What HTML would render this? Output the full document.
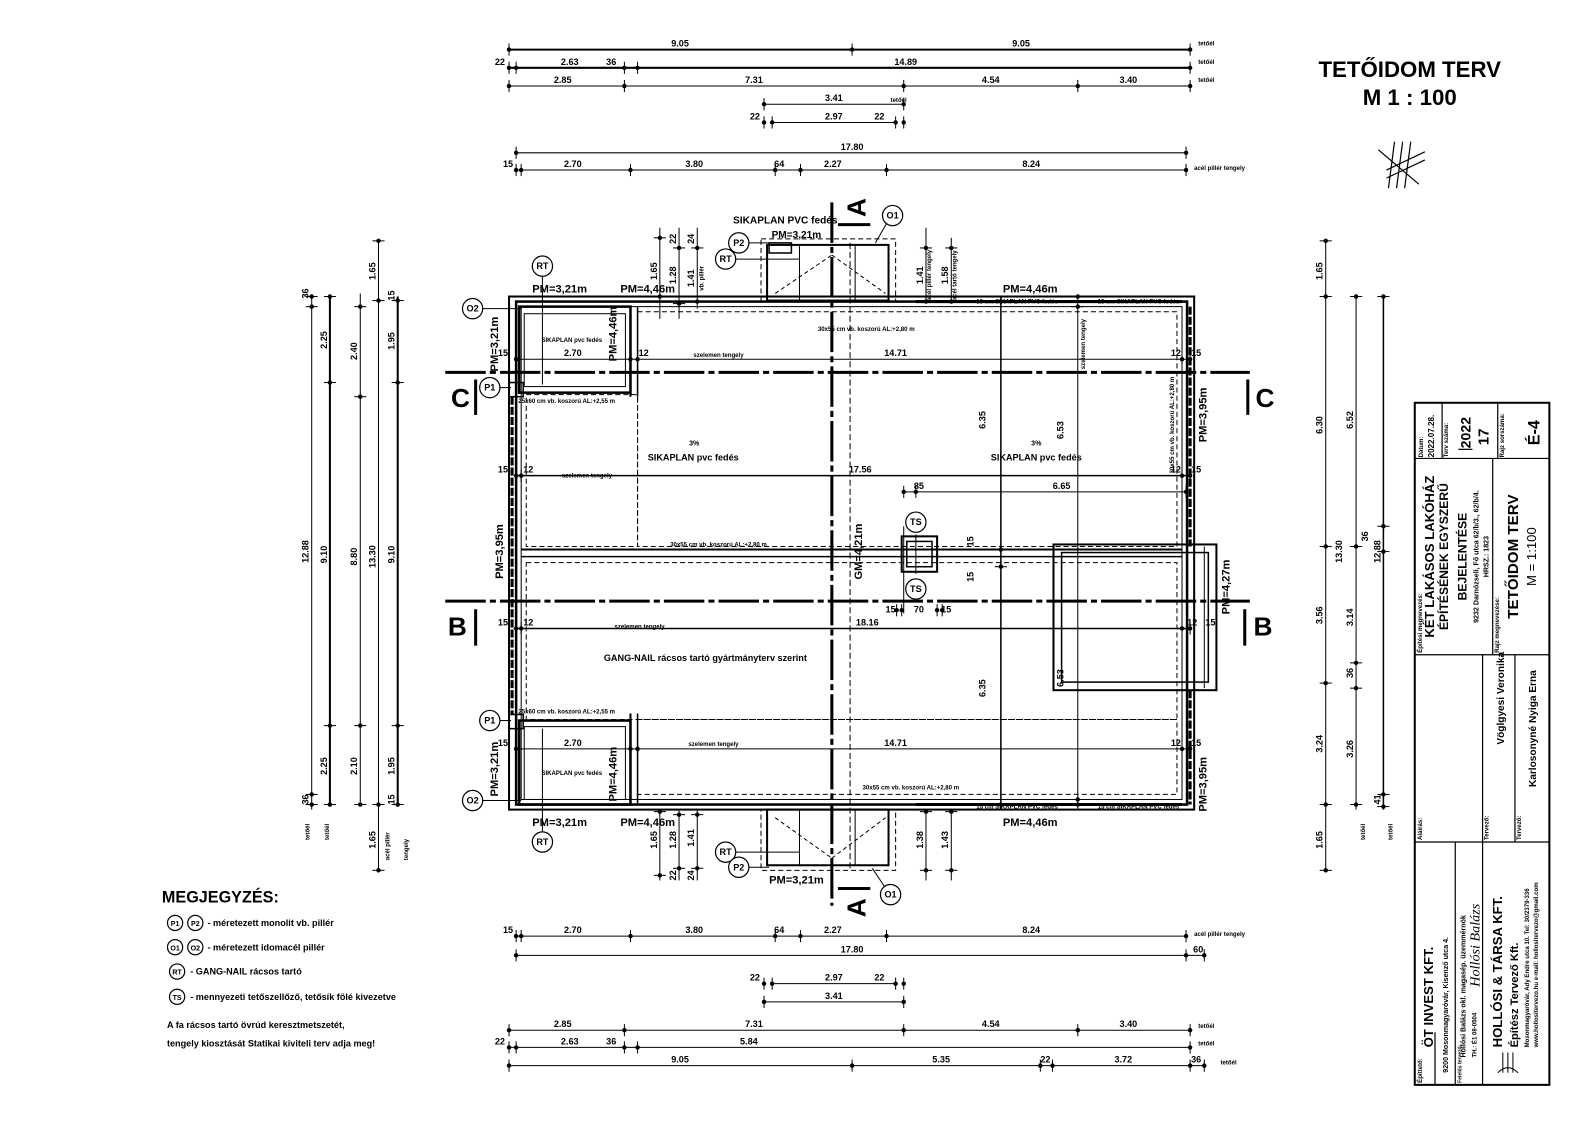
<!DOCTYPE html>
<html><head><meta charset="utf-8"><style>
html,body{margin:0;padding:0;background:#fff;}
svg{display:block;}
text{font-family:"Liberation Sans",sans-serif;fill:#000;}
.d{font-size:9px;font-weight:bold;}
.s{font-size:6px;font-weight:bold;}
.m{font-size:11px;font-weight:bold;}
</style></head><body>
<svg width="1587" height="1123" viewBox="0 0 1587 1123" xmlns="http://www.w3.org/2000/svg">
<defs>
<g id="th"><line x1="0" y1="-6" x2="0" y2="6" stroke="#000" stroke-width="1"/><circle r="2.2" fill="#000"/></g>
<g id="tv"><line x1="-6" y1="0" x2="6" y2="0" stroke="#000" stroke-width="1"/><circle r="2.2" fill="#000"/></g>
</defs>
<rect width="1587" height="1123" fill="#fff"/>
<g transform="scale(1.012)">

<!-- Title -->
<text x="1393" y="76" text-anchor="middle" style="font-size:22px;font-weight:bold">TETŐIDOM TERV</text>
<text x="1393" y="104" text-anchor="middle" style="font-size:22px;font-weight:bold">M 1 : 100</text>
<!-- north arrow -->
<g stroke="#000" stroke-width="1.2" fill="none">
<line x1="1362" y1="148" x2="1402" y2="182"/><line x1="1378" y1="140" x2="1372" y2="186"/>
<line x1="1386" y1="140" x2="1380" y2="186"/><line x1="1394" y1="140" x2="1388" y2="186"/>
<line x1="1370" y1="168" x2="1408" y2="150"/><line x1="1370" y1="176" x2="1408" y2="158"/>
</g>

<!-- TOP DIMENSIONS -->
<g stroke="#000" fill="none">
<line x1="503" y1="49" x2="1176" y2="49" stroke-width="2"/>
<line x1="503" y1="67" x2="1176" y2="67" stroke-width="2"/>
<line x1="503" y1="85" x2="1176" y2="85" stroke-width="1"/>
<line x1="755" y1="103" x2="893" y2="103"/>
<line x1="763" y1="121" x2="885" y2="121"/>
<line x1="510" y1="151" x2="1172" y2="151"/>
<line x1="510" y1="168" x2="1172" y2="168"/>
</g>
<use href="#th" x="503" y="49"/><use href="#th" x="842" y="49"/><use href="#th" x="1176" y="49"/>
<use href="#th" x="503" y="67"/><use href="#th" x="510" y="67"/><use href="#th" x="617" y="67"/><use href="#th" x="630" y="67"/><use href="#th" x="1176" y="67"/>
<use href="#th" x="503" y="85"/><use href="#th" x="617" y="85"/><use href="#th" x="893" y="85"/><use href="#th" x="1065" y="85"/><use href="#th" x="1176" y="85"/>
<use href="#th" x="755" y="103"/><use href="#th" x="893" y="103"/>
<use href="#th" x="755" y="121"/><use href="#th" x="763" y="121"/><use href="#th" x="885" y="121"/><use href="#th" x="893" y="121"/>
<use href="#th" x="510" y="151"/><use href="#th" x="1172" y="151"/>
<use href="#th" x="510" y="168"/><use href="#th" x="515" y="168"/><use href="#th" x="623" y="168"/><use href="#th" x="766" y="168"/><use href="#th" x="791" y="168"/><use href="#th" x="876" y="168"/><use href="#th" x="1172" y="168"/>
<g class="d" text-anchor="middle">
<text x="672" y="46">9.05</text><text x="1009" y="46">9.05</text>
<text x="494" y="64">22</text><text x="563" y="64">2.63</text><text x="604" y="64">36</text><text x="895" y="64">14.89</text>
<text x="556" y="82">2.85</text><text x="745" y="82">7.31</text><text x="979" y="82">4.54</text><text x="1115" y="82">3.40</text>
<text x="824" y="100">3.41</text>
<text x="746" y="118">22</text><text x="824" y="118">2.97</text><text x="869" y="118">22</text>
<text x="842" y="148">17.80</text>
<text x="502" y="165">15</text><text x="566" y="165">2.70</text><text x="686" y="165">3.80</text><text x="770" y="165">64</text><text x="823" y="165">2.27</text><text x="1019" y="165">8.24</text>
</g>
<g class="s"><text x="1184" y="45">tetőél</text><text x="1184" y="63">tetőél</text><text x="1184" y="81">tetőél</text><text x="880" y="101">tetőél</text><text x="1180" y="168">acél pillér tengely</text></g>

<!-- BOTTOM DIMENSIONS -->
<g stroke="#000" fill="none">
<line x1="510" y1="925" x2="1172" y2="925"/>
<line x1="510" y1="944" x2="1190" y2="944"/>
<line x1="763" y1="972" x2="885" y2="972"/>
<line x1="755" y1="990" x2="893" y2="990"/>
<line x1="503" y1="1018" x2="1176" y2="1018"/>
<line x1="503" y1="1035" x2="1176" y2="1035"/>
<line x1="503" y1="1053" x2="1190" y2="1053"/>
</g>
<use href="#th" x="510" y="925"/><use href="#th" x="515" y="925"/><use href="#th" x="623" y="925"/><use href="#th" x="766" y="925"/><use href="#th" x="791" y="925"/><use href="#th" x="876" y="925"/><use href="#th" x="1172" y="925"/>
<use href="#th" x="510" y="944"/><use href="#th" x="1172" y="944"/><use href="#th" x="1190" y="944"/>
<use href="#th" x="755" y="972"/><use href="#th" x="763" y="972"/><use href="#th" x="885" y="972"/><use href="#th" x="893" y="972"/>
<use href="#th" x="755" y="990"/><use href="#th" x="893" y="990"/>
<use href="#th" x="503" y="1018"/><use href="#th" x="617" y="1018"/><use href="#th" x="893" y="1018"/><use href="#th" x="1065" y="1018"/><use href="#th" x="1176" y="1018"/>
<use href="#th" x="503" y="1035"/><use href="#th" x="510" y="1035"/><use href="#th" x="617" y="1035"/><use href="#th" x="630" y="1035"/><use href="#th" x="1176" y="1035"/>
<use href="#th" x="503" y="1053"/><use href="#th" x="842" y="1053"/><use href="#th" x="1028" y="1053"/><use href="#th" x="1040" y="1053"/><use href="#th" x="1176" y="1053"/><use href="#th" x="1190" y="1053"/>
<g class="d" text-anchor="middle">
<text x="502" y="922">15</text><text x="566" y="922">2.70</text><text x="686" y="922">3.80</text><text x="770" y="922">64</text><text x="823" y="922">2.27</text><text x="1019" y="922">8.24</text>
<text x="842" y="941">17.80</text><text x="1184" y="941">60</text>
<text x="746" y="969">22</text><text x="824" y="969">2.97</text><text x="869" y="969">22</text>
<text x="824" y="987">3.41</text>
<text x="556" y="1015">2.85</text><text x="745" y="1015">7.31</text><text x="979" y="1015">4.54</text><text x="1115" y="1015">3.40</text>
<text x="494" y="1032">22</text><text x="563" y="1032">2.63</text><text x="604" y="1032">36</text><text x="740" y="1032">5.84</text>
<text x="672" y="1050">9.05</text><text x="930" y="1050">5.35</text><text x="1033" y="1050">22</text><text x="1110" y="1050">3.72</text><text x="1182" y="1050">36</text>
</g>
<g class="s"><text x="1180" y="925">acél pillér tengely</text><text x="1184" y="1016">tetőél</text><text x="1184" y="1033">tetőél</text><text x="1206" y="1052">tetőél</text></g>

<!-- LEFT DIMENSIONS -->
<g stroke="#000" fill="none">
<line x1="308" y1="293" x2="308" y2="800"/>
<line x1="326" y1="293" x2="326" y2="795" stroke-width="2"/>
<line x1="356" y1="290" x2="356" y2="795"/>
<line x1="374" y1="238" x2="374" y2="860"/>
<line x1="393" y1="293" x2="393" y2="797" stroke-width="2"/>
</g>
<use href="#tv" x="308" y="293"/><use href="#tv" x="308" y="303"/><use href="#tv" x="308" y="785"/><use href="#tv" x="308" y="795"/>
<use href="#tv" x="326" y="293"/><use href="#tv" x="326" y="378"/><use href="#tv" x="326" y="717"/><use href="#tv" x="326" y="795"/>
<use href="#tv" x="356" y="303"/><use href="#tv" x="356" y="392"/><use href="#tv" x="356" y="717"/><use href="#tv" x="356" y="795"/>
<use href="#tv" x="374" y="238"/><use href="#tv" x="374" y="297"/><use href="#tv" x="374" y="795"/><use href="#tv" x="374" y="860"/>
<use href="#tv" x="393" y="297"/><use href="#tv" x="393" y="378"/><use href="#tv" x="393" y="717"/><use href="#tv" x="393" y="795"/>
<g class="d" text-anchor="middle">
<text transform="translate(305,545) rotate(-90)">12.88</text>
<text transform="translate(305,290) rotate(-90)">36</text><text transform="translate(305,790) rotate(-90)">36</text>
<text transform="translate(323,336) rotate(-90)">2.25</text><text transform="translate(323,548) rotate(-90)">9.10</text><text transform="translate(323,757) rotate(-90)">2.25</text>
<text transform="translate(353,347) rotate(-90)">2.40</text><text transform="translate(353,550) rotate(-90)">8.80</text><text transform="translate(353,757) rotate(-90)">2.10</text>
<text transform="translate(371,268) rotate(-90)">1.65</text><text transform="translate(371,550) rotate(-90)">13.30</text><text transform="translate(371,830) rotate(-90)">1.65</text>
<text transform="translate(390,337) rotate(-90)">1.95</text><text transform="translate(390,548) rotate(-90)">9.10</text><text transform="translate(390,757) rotate(-90)">1.95</text>
<text transform="translate(390,292) rotate(-90)">15</text><text transform="translate(390,790) rotate(-90)">15</text>
</g>
<g class="s"><text transform="translate(306,830) rotate(-90)">tetőél</text><text transform="translate(325,830) rotate(-90)">tetőél</text><text transform="translate(385,850) rotate(-90)">acél pillér</text><text transform="translate(403,850) rotate(-90)">tengely</text></g>

<!-- RIGHT DIMENSIONS -->
<g stroke="#000" fill="none">
<line x1="1310" y1="238" x2="1310" y2="860"/>
<line x1="1340" y1="293" x2="1340" y2="800"/>
<line x1="1367" y1="293" x2="1367" y2="800" stroke-width="1.5"/>
</g>
<use href="#tv" x="1310" y="238"/><use href="#tv" x="1310" y="293"/><use href="#tv" x="1310" y="540"/><use href="#tv" x="1310" y="675"/><use href="#tv" x="1310" y="795"/><use href="#tv" x="1310" y="860"/>
<use href="#tv" x="1340" y="293"/><use href="#tv" x="1340" y="540"/><use href="#tv" x="1340" y="655"/><use href="#tv" x="1340" y="680"/><use href="#tv" x="1340" y="795"/>
<use href="#tv" x="1367" y="293"/><use href="#tv" x="1367" y="520"/><use href="#tv" x="1367" y="545"/><use href="#tv" x="1367" y="785"/><use href="#tv" x="1367" y="797"/>
<g class="d" text-anchor="middle">
<text transform="translate(1307,268) rotate(-90)">1.65</text><text transform="translate(1307,420) rotate(-90)">6.30</text><text transform="translate(1307,608) rotate(-90)">3.56</text><text transform="translate(1307,735) rotate(-90)">3.24</text><text transform="translate(1307,830) rotate(-90)">1.65</text>
<text transform="translate(1337,415) rotate(-90)">6.52</text><text transform="translate(1326,545) rotate(-90)">13.30</text><text transform="translate(1337,610) rotate(-90)">3.14</text><text transform="translate(1337,740) rotate(-90)">3.26</text><text transform="translate(1337,665) rotate(-90)">36</text>
<text transform="translate(1364,545) rotate(-90)">12.88</text><text transform="translate(1364,530) rotate(-90)"></text><text transform="translate(1352,530) rotate(-90)">36</text><text transform="translate(1364,790) rotate(-90)">41</text>
</g>
<g class="s"><text transform="translate(1349,830) rotate(-90)">tetőél</text><text transform="translate(1376,830) rotate(-90)">tetőél</text></g>

<!-- PLAN -->
<g stroke="#000" fill="none">
<!-- outer walls -->
<rect x="503" y="293" width="677" height="507" stroke-width="2"/>
<rect x="510" y="298" width="663" height="497" stroke-width="2.5"/>
<rect x="515" y="303" width="653" height="487" stroke-width="1"/>
<!-- dashed inner zones -->
<rect x="630" y="308" width="533" height="232" stroke-dasharray="5,3" stroke-width="1"/>
<rect x="520" y="390" width="110" height="150" stroke-dasharray="5,3" stroke-width="1"/>
<rect x="520" y="556" width="643" height="155" stroke-dasharray="5,3" stroke-width="1"/>
<rect x="630" y="711" width="533" height="74" stroke-dasharray="5,3" stroke-width="1"/>
<!-- divider -->
<line x1="515" y1="543" x2="1168" y2="543" stroke-width="2"/>
<line x1="515" y1="550" x2="1168" y2="550" stroke-width="1.5"/>
<!-- top-left sub room -->
<rect x="513" y="303" width="110" height="85" stroke-width="2.5"/>
<rect x="518" y="310" width="100" height="72" stroke-width="1"/>
<line x1="623" y1="303" x2="623" y2="392" stroke-width="2"/>
<line x1="630" y1="303" x2="630" y2="392" stroke-width="1.5"/>
<rect x="503" y="378" width="14" height="14" stroke-width="1.5"/>
<!-- bottom-left sub room -->
<rect x="513" y="712" width="110" height="83" stroke-width="2.5"/>
<rect x="518" y="718" width="100" height="72" stroke-width="1"/>
<line x1="623" y1="705" x2="623" y2="795" stroke-width="2"/>
<line x1="630" y1="705" x2="630" y2="795" stroke-width="1.5"/>
<rect x="503" y="706" width="14" height="14" stroke-width="1.5"/>
<!-- beams top / bottom -->
<line x1="905" y1="298" x2="1168" y2="298" stroke-width="3"/>
<line x1="905" y1="795" x2="1168" y2="795" stroke-width="3"/>
<!-- left wall hatch -->
<line x1="506" y1="392" x2="506" y2="706" stroke-width="3" stroke-dasharray="8,2"/>
<line x1="1176" y1="303" x2="1176" y2="540" stroke-width="3" stroke-dasharray="8,2"/>
<line x1="1176" y1="682" x2="1176" y2="795" stroke-width="3" stroke-dasharray="8,2"/>
<!-- right box -->
<rect x="1041" y="538" width="161" height="144" stroke-width="2"/>
<rect x="1049" y="546" width="145" height="128" stroke-width="1.5"/>
<line x1="1190" y1="540" x2="1190" y2="680" stroke-width="1"/>
<!-- stair bump top -->
<rect x="752" y="236" width="133" height="62" stroke-dasharray="5,3"/>
<rect x="758" y="242" width="120" height="55" stroke-width="2"/>
<line x1="790" y1="242" x2="790" y2="297"/><line x1="845" y1="242" x2="845" y2="297"/>
<line x1="766" y1="290" x2="822" y2="252" stroke-dasharray="4,3"/><line x1="822" y1="252" x2="875" y2="290" stroke-dasharray="4,3"/>
<rect x="760" y="240" width="22" height="10" stroke-width="1.5"/>
<!-- stair bump bottom -->
<rect x="752" y="800" width="133" height="60" stroke-dasharray="5,3"/>
<rect x="758" y="800" width="120" height="55" stroke-width="2"/>
<line x1="790" y1="800" x2="790" y2="855"/><line x1="845" y1="800" x2="845" y2="855"/>
<line x1="766" y1="808" x2="822" y2="848" stroke-dasharray="4,3"/><line x1="822" y1="848" x2="875" y2="808" stroke-dasharray="4,3"/>
<!-- chimney TS -->
<rect x="891" y="530" width="35" height="35" stroke-width="2"/>
<rect x="896" y="535" width="25" height="25" stroke-width="1.5"/>
<line x1="905" y1="528" x2="905" y2="567"/>
<!-- internal axis lines -->
<line x1="510" y1="355" x2="1172" y2="355"/>
<line x1="510" y1="470" x2="1172" y2="470" stroke-width="1.5"/>
<line x1="893" y1="486" x2="1172" y2="486"/>
<line x1="510" y1="621" x2="1172" y2="621" stroke-width="1.5"/>
<line x1="510" y1="740" x2="1172" y2="740"/>
<line x1="989" y1="293" x2="989" y2="800" stroke-width="1.5"/>
<line x1="1065" y1="293" x2="1065" y2="800"/>
<line x1="840" y1="240" x2="840" y2="860" stroke-dasharray="6,3"/>
<!-- section lines -->
<line x1="440" y1="368" x2="1235" y2="368" stroke-width="3" stroke-dasharray="40,4,6,4"/>
<line x1="440" y1="594" x2="1235" y2="594" stroke-width="3" stroke-dasharray="40,4,6,4"/>
<line x1="822" y1="200" x2="822" y2="895" stroke-width="3" stroke-dasharray="40,4,6,4"/>
<line x1="470" y1="375" x2="470" y2="410" stroke-width="3"/>
<line x1="1233" y1="375" x2="1233" y2="410" stroke-width="3"/>
<line x1="470" y1="602" x2="470" y2="638" stroke-width="3"/>
<line x1="1230" y1="602" x2="1230" y2="638" stroke-width="3"/>
<line x1="828" y1="222" x2="860" y2="222" stroke-width="3"/>
<line x1="828" y1="878" x2="860" y2="878" stroke-width="3"/>
<!-- vertical small dims near stairs -->
<line x1="652" y1="225" x2="652" y2="315"/><line x1="671" y1="225" x2="671" y2="315"/><line x1="689" y1="225" x2="689" y2="305"/>
<line x1="915" y1="225" x2="915" y2="300"/><line x1="940" y1="235" x2="940" y2="300"/>
<line x1="652" y1="800" x2="652" y2="870"/><line x1="671" y1="800" x2="671" y2="870"/><line x1="689" y1="800" x2="689" y2="870"/>
<line x1="915" y1="800" x2="915" y2="870"/><line x1="940" y1="800" x2="940" y2="870"/>
<line x1="893" y1="520" x2="893" y2="606"/>
<!-- callout leaders -->
<line x1="477" y1="305" x2="515" y2="305"/><line x1="494" y1="383" x2="505" y2="383"/>
<line x1="494" y1="712" x2="505" y2="712"/><line x1="477" y1="791" x2="515" y2="791"/>
<line x1="536" y1="273" x2="536" y2="380"/><line x1="536" y1="720" x2="536" y2="822"/>
<line x1="740" y1="240" x2="760" y2="240"/><line x1="727" y1="256" x2="790" y2="256"/>
<line x1="740" y1="857" x2="760" y2="857"/><line x1="727" y1="842" x2="790" y2="842"/>
<line x1="876" y1="221" x2="865" y2="240"/><line x1="874" y1="876" x2="862" y2="858"/>
<line x1="905" y1="526" x2="905" y2="522"/>
</g>
<!-- ticks in plan -->
<use href="#th" x="510" y="355"/><use href="#th" x="623" y="355"/><use href="#th" x="630" y="355"/><use href="#th" x="1168" y="355"/><use href="#th" x="1176" y="355"/>
<use href="#th" x="510" y="470"/><use href="#th" x="515" y="470"/><use href="#th" x="1168" y="470"/><use href="#th" x="1176" y="470"/>
<use href="#th" x="893" y="486"/><use href="#th" x="905" y="486"/><use href="#th" x="1172" y="486"/>
<use href="#th" x="510" y="621"/><use href="#th" x="515" y="621"/><use href="#th" x="1168" y="621"/><use href="#th" x="1176" y="621"/>
<use href="#th" x="510" y="740"/><use href="#th" x="623" y="740"/><use href="#th" x="630" y="740"/><use href="#th" x="1168" y="740"/><use href="#th" x="1176" y="740"/>
<use href="#th" x="886" y="603"/><use href="#th" x="891" y="603"/><use href="#th" x="926" y="603"/><use href="#th" x="931" y="603"/>
<use href="#tv" x="652" y="235"/><use href="#tv" x="652" y="293"/><use href="#tv" x="671" y="245"/><use href="#tv" x="671" y="300"/><use href="#tv" x="689" y="245"/><use href="#tv" x="689" y="298"/>
<use href="#tv" x="915" y="245"/><use href="#tv" x="915" y="298"/><use href="#tv" x="940" y="245"/><use href="#tv" x="940" y="298"/>
<use href="#tv" x="652" y="802"/><use href="#tv" x="652" y="865"/><use href="#tv" x="671" y="805"/><use href="#tv" x="671" y="858"/><use href="#tv" x="689" y="805"/><use href="#tv" x="689" y="858"/>
<use href="#tv" x="915" y="802"/><use href="#tv" x="915" y="860"/><use href="#tv" x="940" y="802"/><use href="#tv" x="940" y="860"/>
<use href="#tv" x="1065" y="293"/><use href="#tv" x="1065" y="303"/><use href="#tv" x="1065" y="795"/><use href="#tv" x="1065" y="790"/>
<use href="#tv" x="989" y="298"/><use href="#tv" x="989" y="795"/><use href="#tv" x="989" y="543"/><use href="#tv" x="989" y="560"/>

<!-- plan text -->
<g class="m" text-anchor="middle">
<text x="776" y="221" style="font-size:10px">SIKAPLAN PVC fedés</text>
<text x="787" y="235" style="font-size:10px">PM=3,21m</text>
<text x="553" y="289">PM=3,21m</text><text x="640" y="289">PM=4,46m</text><text x="1018" y="289">PM=4,46m</text>
<text x="553" y="816">PM=3,21m</text><text x="640" y="816">PM=4,46m</text><text x="1018" y="816">PM=4,46m</text>
<text x="787" y="873">PM=3,21m</text>
<text transform="translate(492,340) rotate(-90)">PM=3,21m</text>
<text transform="translate(492,760) rotate(-90)">PM=3,21m</text>
<text transform="translate(497,545) rotate(-90)">PM=3,95m</text>
<text transform="translate(609,330) rotate(-90)">PM=4,46m</text>
<text transform="translate(609,765) rotate(-90)">PM=4,46m</text>
<text transform="translate(1192,410) rotate(-90)">PM=3,95m</text>
<text transform="translate(1192,775) rotate(-90)">PM=3,95m</text>
<text transform="translate(1215,580) rotate(-90)">PM=4,27m</text>
<text transform="translate(852,545) rotate(-90)">GM=4,21m</text>
</g>
<g class="d" text-anchor="middle">
<text x="566" y="352">2.70</text><text x="885" y="352">14.71</text><text x="636" y="352">12</text><text x="1162" y="352">12</text><text x="1182" y="352">15</text><text x="497" y="352">15</text>
<text x="850" y="467">17.56</text><text x="497" y="467">15</text><text x="522" y="467">12</text><text x="1162" y="467">12</text><text x="1182" y="467">15</text>
<text x="908" y="483">85</text><text x="1049" y="483">6.65</text>
<text x="857" y="618">18.16</text><text x="497" y="618">15</text><text x="522" y="618">12</text><text x="1178" y="618">12</text><text x="1196" y="618">15</text>
<text x="566" y="737">2.70</text><text x="885" y="737">14.71</text><text x="1162" y="737">12</text><text x="1182" y="737">15</text><text x="497" y="737">15</text>
<text x="880" y="605">15</text><text x="908" y="605">70</text><text x="935" y="605">15</text>
<text transform="translate(974,415) rotate(-90)">6.35</text><text transform="translate(974,680) rotate(-90)">6.35</text>
<text transform="translate(1051,425) rotate(-90)">6.53</text><text transform="translate(1051,670) rotate(-90)">6.53</text>
<text transform="translate(649,268) rotate(-90)">1.65</text><text transform="translate(668,272) rotate(-90)">1.28</text><text transform="translate(686,275) rotate(-90)">1.41</text>
<text transform="translate(912,272) rotate(-90)">1.41</text><text transform="translate(937,272) rotate(-90)">1.58</text>
<text transform="translate(649,830) rotate(-90)">1.65</text><text transform="translate(668,830) rotate(-90)">1.28</text><text transform="translate(686,828) rotate(-90)">1.41</text>
<text transform="translate(912,830) rotate(-90)">1.38</text><text transform="translate(937,830) rotate(-90)">1.43</text>
<text transform="translate(668,236) rotate(-90)">22</text><text transform="translate(686,236) rotate(-90)">24</text>
<text transform="translate(668,865) rotate(-90)">22</text><text transform="translate(686,865) rotate(-90)">24</text>
<text transform="translate(962,535) rotate(-90)">15</text><text transform="translate(962,570) rotate(-90)">15</text>
</g>
<g text-anchor="middle" style="font-size:9px;font-weight:bold">
<text x="685" y="455">SIKAPLAN pvc fedés</text><text x="686" y="440" style="font-size:7px">3%</text>
<text x="1024" y="455">SIKAPLAN pvc fedés</text><text x="1024" y="440" style="font-size:7px">3%</text>
<text x="697" y="653">GANG-NAIL rácsos tartó gyártmányterv szerint</text>
<text x="565" y="338" style="font-size:6px">SIKAPLAN pvc fedés</text>
<text x="565" y="766" style="font-size:6px">SIKAPLAN pvc fedés</text>
</g>
<g class="s" text-anchor="middle">
<text x="710" y="353">szelemen tengely</text><text x="580" y="472">szelemen tengely</text><text x="632" y="621">szelemen tengely</text><text x="705" y="737">szelemen tengely</text>
<text x="856" y="327">30x55 cm vb. koszorú AL:+2,80 m</text>
<text x="710" y="540">30x55 cm vb. koszorú AL:+2,80 m</text>
<text x="560" y="398">25x60 cm vb. koszorú AL:+2,55 m</text>
<text x="560" y="705">25x60 cm vb. koszorú AL:+2,55 m</text>
<text x="900" y="780">30x55 cm vb. koszorú AL:+2,80 m</text>
<text x="1005" y="300">15 cm SIKAPLAN PVC fedés</text><text x="1125" y="300">15 cm SIKAPLAN PVC fedés</text>
<text x="1005" y="799">15 cm SIKAPLAN PVC fedés</text><text x="1125" y="799">15 cm SIKAPLAN PVC fedés</text>
<text transform="translate(1072,340) rotate(-90)">szelemen tengely</text>
<text transform="translate(1160,420) rotate(-90)">30x55 cm vb. koszorú AL:+2,80 m</text>
<text transform="translate(695,275) rotate(-90)">vb. pillér</text>
<text transform="translate(920,272) rotate(-90)">acél pillér tengely</text>
<text transform="translate(945,272) rotate(-90)">acél tartó tengely</text>
</g>
<!-- section letters -->
<g style="font-size:26px;font-weight:900" text-anchor="middle">
<text x="455" y="402">C</text><text x="1250" y="402">C</text>
<text x="452" y="628">B</text><text x="1248" y="628">B</text>
<text transform="translate(855,205) rotate(-90)">A</text>
<text transform="translate(855,897) rotate(-90)">A</text>
</g>
<!-- callouts -->
<g fill="#fff" stroke="#000" stroke-width="1.2">
<circle cx="536" cy="263" r="10"/><circle cx="467" cy="305" r="10"/><circle cx="484" cy="383" r="10"/>
<circle cx="882" cy="213" r="10"/><circle cx="730" cy="240" r="10"/><circle cx="717" cy="256" r="10"/>
<circle cx="905" cy="516" r="10"/><circle cx="905" cy="582" r="10"/>
<circle cx="484" cy="712" r="10"/><circle cx="467" cy="791" r="10"/><circle cx="536" cy="832" r="10"/>
<circle cx="717" cy="842" r="10"/><circle cx="730" cy="857" r="10"/><circle cx="880" cy="884" r="10"/>
</g>
<g style="font-size:9px;font-weight:bold" text-anchor="middle">
<text x="536" y="266">RT</text><text x="467" y="308">O2</text><text x="484" y="386">P1</text>
<text x="882" y="216">O1</text><text x="730" y="243">P2</text><text x="717" y="259">RT</text>
<text x="905" y="519">TS</text><text x="905" y="585">TS</text>
<text x="484" y="715">P1</text><text x="467" y="794">O2</text><text x="536" y="835">RT</text>
<text x="717" y="845">RT</text><text x="730" y="860">P2</text><text x="880" y="887">O1</text>
</g>

<!-- LEGEND -->
<text x="160" y="892" style="font-size:16px;font-weight:bold">MEGJEGYZÉS:</text>
<g fill="none" stroke="#000" stroke-width="1.2">
<circle cx="173" cy="912" r="7.5"/><circle cx="193" cy="912" r="7.5"/>
<circle cx="173" cy="936" r="7.5"/><circle cx="193" cy="936" r="7.5"/>
<circle cx="175" cy="960" r="7.5"/><circle cx="175" cy="985" r="7.5"/>
</g>
<g style="font-size:7px;font-weight:bold" text-anchor="middle">
<text x="173" y="915">P1</text><text x="193" y="915">P2</text><text x="173" y="939">O1</text><text x="193" y="939">O2</text><text x="175" y="963">RT</text><text x="175" y="988">TS</text>
</g>
<g style="font-size:9px;font-weight:bold">
<text x="205" y="915">- méretezett monolit vb. pillér</text>
<text x="205" y="939">- méretezett idomacél pillér</text>
<text x="188" y="963">- GANG-NAIL rácsos tartó</text>
<text x="188" y="988">- mennyezeti tetőszellőző, tetősík fölé kivezetve</text>
<text x="165" y="1016">A fa rácsos tartó övrúd keresztmetszetét,</text>
<text x="165" y="1034">tengely kiosztását Statikai kiviteli terv adja meg!</text>
</g>

<!-- TITLE BLOCK -->
<g stroke="#000" fill="none" stroke-width="1.2">
<rect x="1398" y="398" width="133" height="674" stroke-width="2"/>
<line x1="1398" y1="453" x2="1531" y2="453"/>
<line x1="1425" y1="398" x2="1425" y2="453"/><line x1="1480" y1="398" x2="1480" y2="453"/>
<line x1="1475" y1="453" x2="1475" y2="647"/>
<line x1="1398" y1="647" x2="1531" y2="647"/>
<line x1="1465" y1="647" x2="1465" y2="832"/><line x1="1497" y1="647" x2="1497" y2="832"/>
<line x1="1398" y1="832" x2="1531" y2="832"/>
<line x1="1438" y1="832" x2="1438" y2="1072"/><line x1="1465" y1="832" x2="1465" y2="1072"/>
<line x1="1418" y1="1020" x2="1418" y2="1072"/>
<line x1="1441" y1="444" x2="1455" y2="444"/>
</g>
<g style="font-weight:bold">
<text transform="translate(1406,452) rotate(-90)" style="font-size:6px">Dátum:</text>
<text transform="translate(1417,452) rotate(-90)" style="font-size:8px">2022.07.28.</text>
<text transform="translate(1431,452) rotate(-90)" style="font-size:6px">Terv száma:</text>
<text transform="translate(1453,443) rotate(-90)" style="font-size:14px">2022</text>
<text transform="translate(1471,440) rotate(-90)" style="font-size:15px">17</text>
<text transform="translate(1486,452) rotate(-90)" style="font-size:6px">Rajz sorszáma:</text>
<text transform="translate(1521,440) rotate(-90)" style="font-size:16px">É-4</text>

<text transform="translate(1405,645) rotate(-90)" style="font-size:6px">Építési megnevezés:</text>
<g text-anchor="middle">
<text transform="translate(1417,550) rotate(-90)" style="font-size:13px">KÉT LAKÁSOS LAKÓHÁZ</text>
<text transform="translate(1431,550) rotate(-90)" style="font-size:12px">ÉPÍTÉSÉNEK EGYSZERŰ</text>
<text transform="translate(1449,550) rotate(-90)" style="font-size:12px">BEJELENTÉSE</text>
<text transform="translate(1461,550) rotate(-90)" style="font-size:7px">9232 Darnózseli, Fő utca 62/b/3., 62/b/4.</text>
<text transform="translate(1471,550) rotate(-90)" style="font-size:7px">HRSZ.: 1823</text>
<text transform="translate(1500,550) rotate(-90)" style="font-size:15px">TETŐIDOM TERV</text>
<text transform="translate(1518,550) rotate(-90)" style="font-size:13px;font-weight:normal">M = 1:100</text>
<text transform="translate(1486,690) rotate(-90)" style="font-size:10px">Vöglgyesi Veronika</text>
<text transform="translate(1518,720) rotate(-90)" style="font-size:10px">Karlosonyné Nyiga Erna</text>
</g>
<text transform="translate(1481,645) rotate(-90)" style="font-size:6px">Rajz megnevezése:</text>
<text transform="translate(1405,830) rotate(-90)" style="font-size:6px">Aláírás:</text>
<text transform="translate(1471,830) rotate(-90)" style="font-size:6px">Tervező:</text>
<text transform="translate(1503,830) rotate(-90)" style="font-size:6px">Tervező:</text>

<text transform="translate(1405,1070) rotate(-90)" style="font-size:6px">Építtető:</text>
<text transform="translate(1416,1035) rotate(-90)" style="font-size:13px">ÖT INVEST KFT.</text>
<text transform="translate(1431,1060) rotate(-90)" style="font-size:7px">9200 Mosonmagyaróvár, Kisenző utca 4.</text>
<text transform="translate(1444,1070) rotate(-90)" style="font-size:5px">Felelős tervező:</text>
<text transform="translate(1448,1045) rotate(-90)" style="font-size:7px">Hollósi Balázs   okl. magasép. üzemmérnök</text>
<text transform="translate(1459,1045) rotate(-90)" style="font-size:6px">TH.: É1 08-0504</text>
<text transform="translate(1462,975) rotate(-90)" style="font-size:14px;font-style:italic;font-weight:normal;font-family:'Liberation Serif',serif">Hollósi Balázs</text>
<text transform="translate(1484,1035) rotate(-90)" style="font-size:13px">HOLLÓSI &amp; TÁRSA KFT.</text>
<text transform="translate(1500,1035) rotate(-90)" style="font-size:11px">Építész Tervező Kft.</text>
<text transform="translate(1511,1035) rotate(-90)" style="font-size:6px">Mosonmagyaróvár, Ady Endre utca 10.  Tel: 30/2379-336</text>
<text transform="translate(1520,1035) rotate(-90)" style="font-size:6px">www.hollositervezo.hu   e-mail: hollositervezo@gmail.com</text>
</g>
<g stroke="#000" fill="none" stroke-width="1">
<path d="M1480,1060 q10,-10 20,0"/><line x1="1485" y1="1060" x2="1485" y2="1040"/><line x1="1490" y1="1060" x2="1490" y2="1040"/><line x1="1495" y1="1060" x2="1495" y2="1040"/>
</g>
</g>
</svg>
</body></html>
